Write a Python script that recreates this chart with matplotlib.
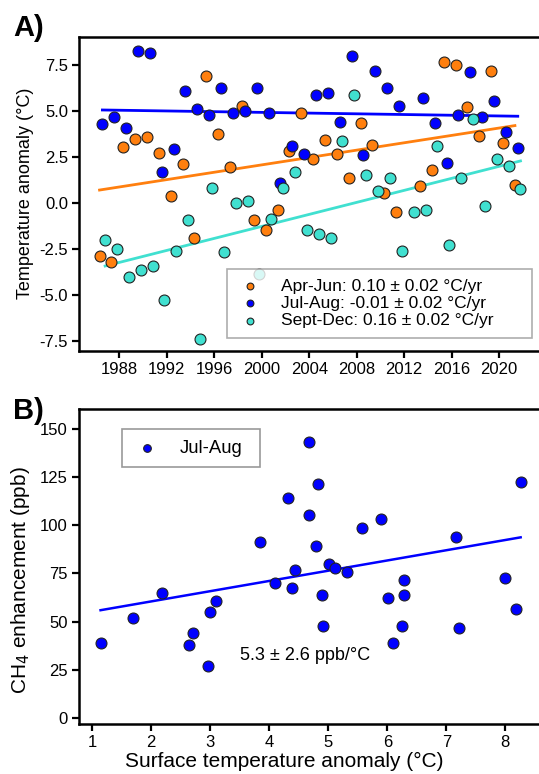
import matplotlib
matplotlib.use("Agg")
import matplotlib.pyplot as plt
import numpy as np

plt.rcParams["font.family"] = ["Liberation Sans", "DejaVu Sans"]
plt.rcParams["axes.unicode_minus"] = False

# ---- panel A: seasonal temperature anomaly by year ----
years = list(range(1986, 2022))
nan = np.nan
apr_jun = [-2.86, -3.19, 3.08, 3.51, 3.62, 2.75, 0.41, 2.15, -1.87, 6.92,
           3.78, 1.97, 5.29, -0.91, -1.45, -0.38, 2.86, 4.88, 2.41, 3.46,
           2.66, 1.36, 4.38, 3.15, 0.58, -0.47, nan, 0.94, 1.83, 7.68,
           7.50, 5.25, 3.64, 7.19, 3.26, 1.01]
jul_aug = [4.29, 4.67, 4.09, 8.26, 8.19, 1.68, 2.97, 6.09, 5.11, 4.78,
           6.25, 4.92, 5.03, 6.28, 4.89, 1.12, 3.09, 2.68, 5.90, 6.01,
           4.43, 8.00, 2.64, 7.21, 6.28, 5.29, nan, 5.74, 4.38, 2.17,
           4.80, 7.15, 4.71, 5.58, 3.86, 3.00]
sep_dec = [-2.00, -2.50, -4.02, -3.61, -3.41, -5.26, -2.59, -0.92, -7.34, 0.85,
           -2.65, 0.03, 0.14, -3.86, -0.85, 0.85, 1.68, -1.45, -1.69, -1.89,
           3.39, 5.88, 1.56, 0.65, 1.37, -2.56, -0.46, -0.36, 3.13, -2.25,
           1.37, 4.56, -0.13, 2.39, 2.04, 0.80]
# fractional-year position of each season's midpoint
season_offset = {"Apr-Jun": 0.33, "Jul-Aug": 0.57, "Sept-Dec": 0.80}
# trend fits: (slope °C/yr, value at 2000)
trend = {"Apr-Jun": (0.100, 2.09), "Jul-Aug": (-0.0097, 4.94), "Sept-Dec": (0.163, -1.25)}
trend_text = {"Apr-Jun": "0.10 ± 0.02 °C/yr",
              "Jul-Aug": "-0.01 ± 0.02 °C/yr",
              "Sept-Dec": "0.16 ± 0.02 °C/yr"}
colors = {"Apr-Jun": "#ff7f0e", "Jul-Aug": "#0000ff", "Sept-Dec": "#40e0d0"}

# ---- panel B: CH4 enhancement vs Jul-Aug surface temperature ----
t_surf = [1.14, 1.69, 2.18, 2.64, 2.70, 2.96, 3.00, 3.09, 3.85, 4.09,
          4.31, 4.39, 4.44, 4.68, 4.68, 4.79, 4.83, 4.89, 4.91, 5.02,
          5.12, 5.31, 5.57, 5.90, 6.01, 6.09, 6.25, 6.29, 6.29, 7.16,
          7.22, 7.99, 8.18, 8.26]
ch4_enh = [38.9, 52.0, 64.7, 37.8, 44.0, 27.1, 55.0, 60.7, 91.4, 70.0,
           114.0, 67.5, 76.7, 105.3, 142.8, 89.1, 121.2, 63.8, 47.7, 79.8,
           77.9, 75.5, 98.6, 103.1, 62.1, 38.8, 47.9, 63.8, 71.7, 94.0,
           46.6, 72.7, 56.5, 122.1]
ch4_slope, ch4_icept = 5.3, 49.9


def style_axes(ax):
    ax.spines["right"].set_visible(False)
    for s in ("left", "bottom", "top"):
        ax.spines[s].set_linewidth(1.8)
    ax.tick_params(direction="out", length=5, width=1.6, labelsize=12, pad=3)


fig = plt.figure(figsize=(5.39, 7.74), dpi=100)
axA = fig.add_axes([0.1466, 0.5469, 0.8534, 0.4057])
axB = fig.add_axes([0.1466, 0.0646, 0.8534, 0.4066])

series = {"Apr-Jun": apr_jun, "Jul-Aug": jul_aug, "Sept-Dec": sep_dec}
yrs = np.array(years, dtype=float)
for name, vals in series.items():
    vals = np.array(vals, dtype=float)
    x = yrs + season_offset[name]
    ok = ~np.isnan(vals)
    axA.scatter(x[ok], vals[ok], s=62, color=colors[name], edgecolor="#222222",
                linewidth=0.8, zorder=3,
                label=f"{name}: {trend_text[name]}")
    slope, v2000 = trend[name]
    xl = np.array([x[ok].min(), x[ok].max()])
    axA.plot(xl, v2000 + slope * (xl - 2000), color=colors[name], lw=2, zorder=2)

axA.set_xlim(1984.6, 2023.36)
axA.set_ylim(-8.0, 9.05)
axA.set_xticks(range(1988, 2021, 4))
axA.set_yticks([-7.5, -5.0, -2.5, 0.0, 2.5, 5.0, 7.5])
axA.set_yticklabels(["-7.5", "-5.0", "-2.5", "0.0", "2.5", "5.0", "7.5"])
axA.set_ylabel("Temperature anomaly (°C)", fontsize=13)
style_axes(axA)
legA = axA.legend(loc="lower left", bbox_to_anchor=(0.321, 0.041, 0.663, 0.2),
                  mode="expand", borderaxespad=0, fontsize=12.5, markerscale=0.62,
                  handlelength=1.6, handletextpad=1.0, labelspacing=0.12,
                  borderpad=0.55, fancybox=False, framealpha=0.8,
                  edgecolor="#999999")
legA.get_frame().set_linewidth(1.2)
legA.set_zorder(5)

axB.scatter(t_surf, ch4_enh, s=62, color="#0000ff", edgecolor="#222222",
            linewidth=0.8, zorder=3, label="Jul-Aug")
xb = np.array([min(t_surf), max(t_surf)])
axB.plot(xb, ch4_icept + ch4_slope * xb, color="#0000ff", lw=1.8, zorder=2)
axB.text(3.51, 32.7, "5.3 ± 2.6 ppb/°C", fontsize=13, va="center", ha="left")
axB.set_xlim(0.775, 8.571)
axB.set_ylim(-3, 160)
axB.set_xticks(range(1, 9))
axB.set_yticks(range(0, 151, 25))
axB.set_xlabel("Surface temperature anomaly (°C)", fontsize=15)
axB.xaxis.set_label_coords(0.447, -0.088)
axB.set_ylabel("CH$_4$ enhancement (ppb)", fontsize=15)
axB.yaxis.set_label_coords(-0.103, 0.458)
style_axes(axB)
legB = axB.legend(loc="upper left", bbox_to_anchor=(0.093, 0.80, 0.301, 0.136),
                  mode="expand", borderaxespad=0, fontsize=13.3, markerscale=0.7,
                  handlelength=1.6, handletextpad=1.0, borderpad=0.55,
                  fancybox=False, framealpha=1, edgecolor="#999999")
legB.get_frame().set_linewidth(1.2)

fig.text(0.024, 0.954, "A)", fontsize=21, fontweight="bold", va="baseline")
fig.text(0.024, 0.459, "B)", fontsize=21, fontweight="bold", va="baseline")

fig.savefig("out.png", dpi=100)
